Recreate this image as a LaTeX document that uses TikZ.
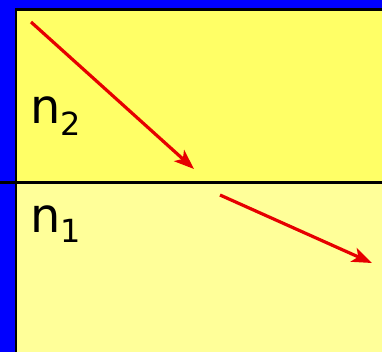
\documentclass[tikz,border=0pt]{standalone}
\usepackage{fontspec}
\setmainfont{DejaVu Sans}
\usetikzlibrary{arrows.meta}
\definecolor{upyel}{RGB}{255,255,102}
\definecolor{lowyel}{RGB}{255,255,153}
\definecolor{ray}{RGB}{230,0,0}
\tikzset{
  rayline/.style={draw=ray,line width=3.2bp,-{Stealth[length=20bp,width=15bp,inset=5bp]}},
  sepline/.style={draw=black,line width=3bp},
  lbl/.style={inner sep=0pt,font=\fontsize{48}{48}\selectfont},
  sublbl/.style={inner sep=0pt,font=\fontsize{32}{32}\selectfont}
}
\begin{document}
\begin{tikzpicture}[x=1bp,y=-1bp]
\useasboundingbox (0,0) rectangle (382,352);
\fill[blue] (0,0) rectangle (382,352);
\fill[upyel] (16,9) rectangle (382,182.5);
\fill[lowyel] (16,182.5) rectangle (382,352);
\draw[black,line width=2.5bp] (16,352) -- (16,9.5) -- (382,9.5);
\coordinate (L) at (0,182.5);
\coordinate (R) at (382,182.5);
\draw[sepline] (L) -- (R);
\coordinate (a1) at (31,22);
\coordinate (b1) at (194,169);
\draw[rayline] (a1) -- (b1);
\coordinate (a2) at (220,195);
\coordinate (b2) at (372,263);
\draw[rayline] (a2) -- (b2);
\node[lbl,anchor=base west] (n2) at (30,123) {n};
\node[sublbl,anchor=base west] (s2) at (n2.base east) [yshift=-12bp] {2};
\node[lbl,anchor=base west] (n1) at (30,232) {n};
\node[sublbl,anchor=base west] (s1) at (n1.base east) [yshift=-10bp] {1};
\end{tikzpicture}
\end{document}
